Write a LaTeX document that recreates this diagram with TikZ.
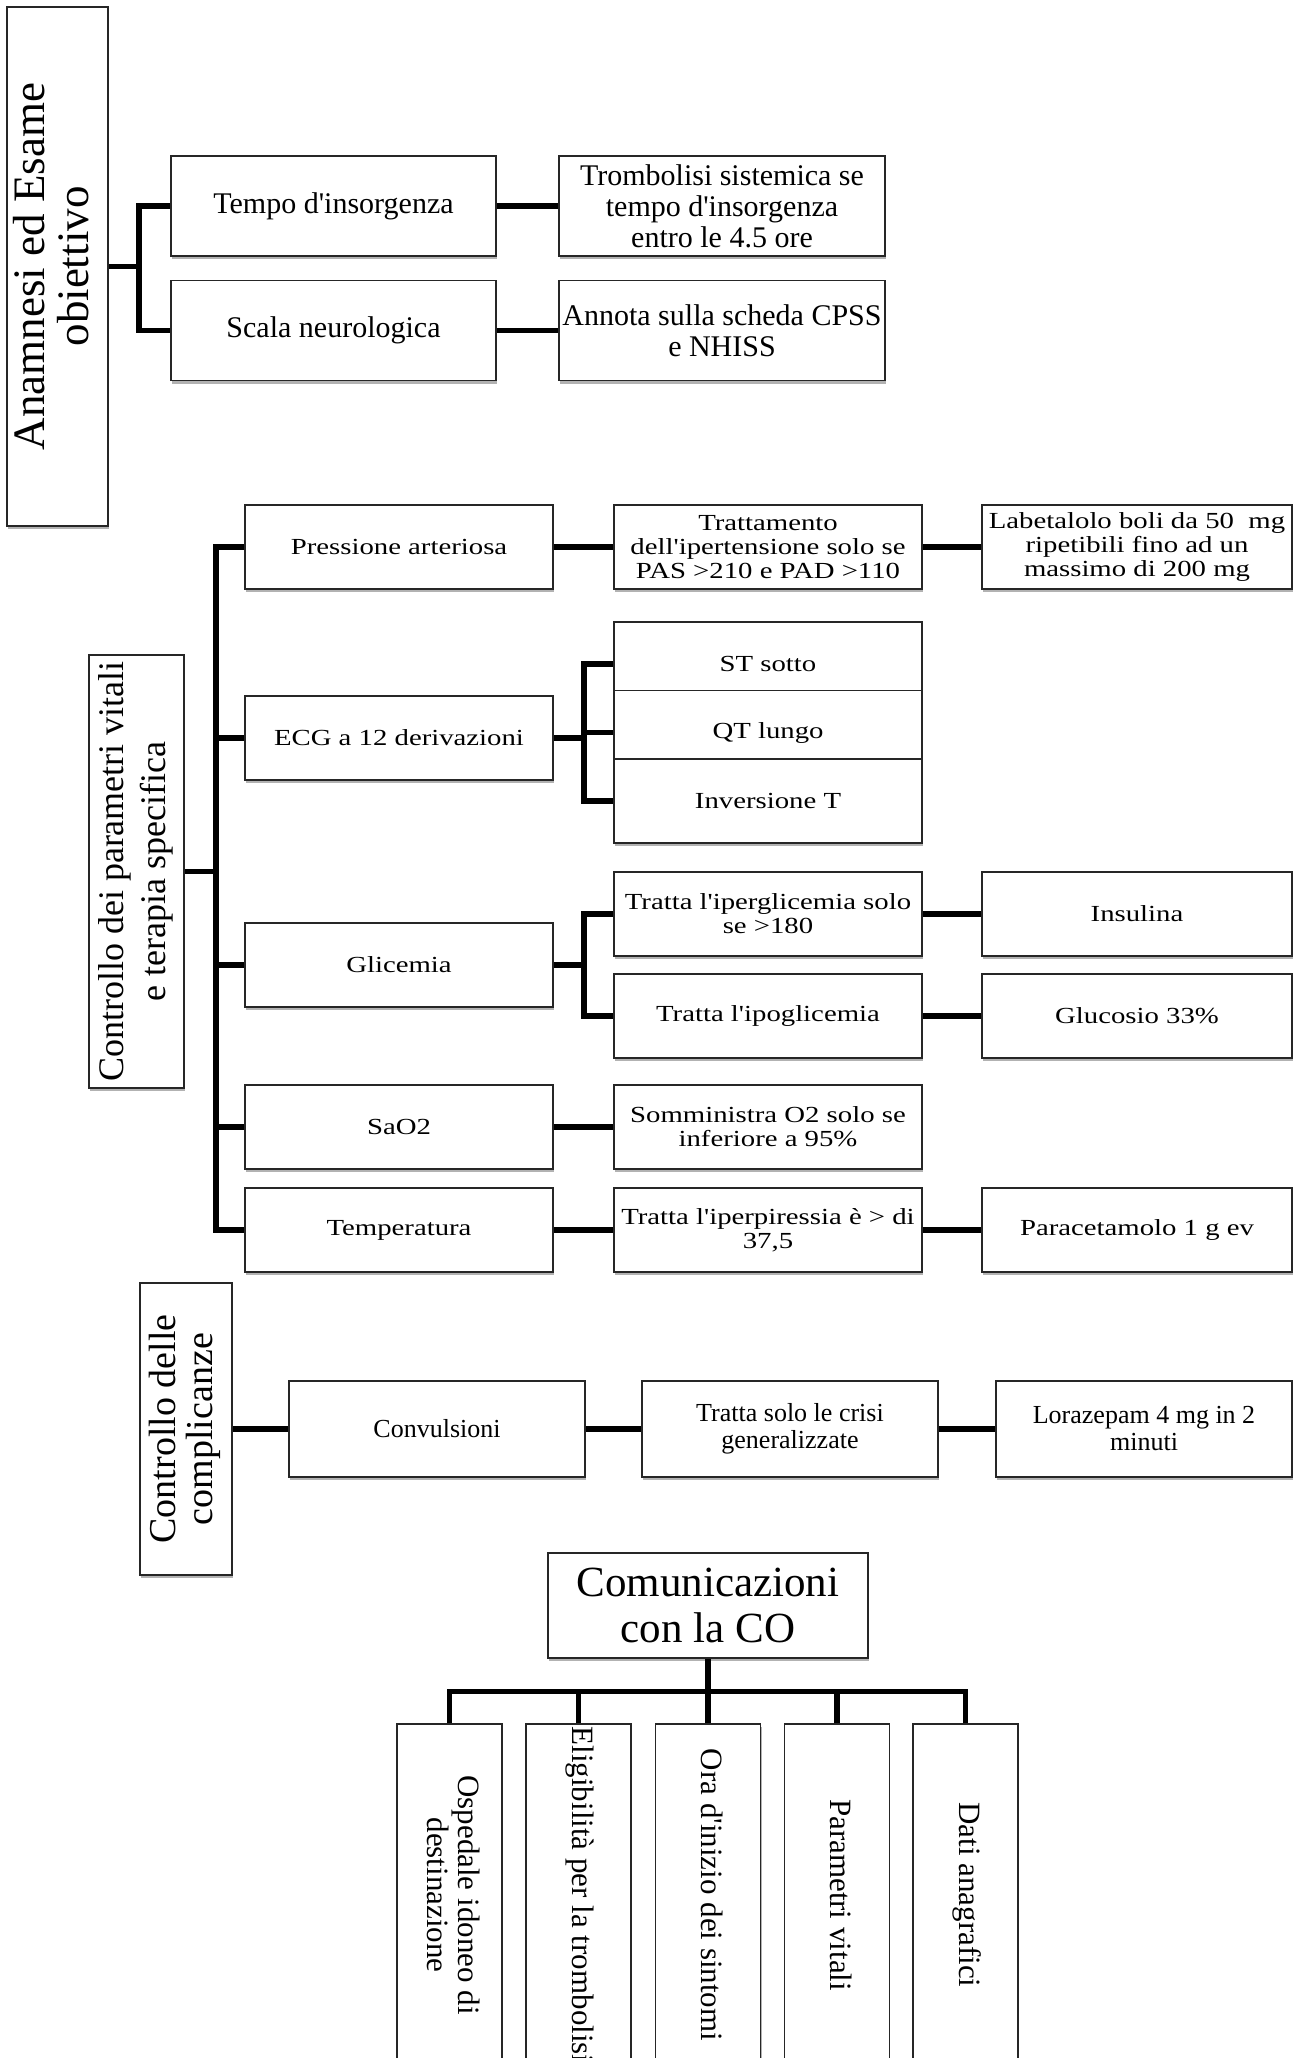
\documentclass[tikz,border=0pt]{standalone}
\usepackage{graphicx}
\usepackage{fontspec}
\setmainfont{Liberation Serif}[Ligatures=TeXOff]
\newfontfamily\wideserif{Liberation Serif}[Ligatures=TeXOff,FakeStretch=1.25]
\usetikzlibrary{shadows}
\newcommand{\rotup}[1]{\rotatebox{90}{\begin{tabular}{@{}c@{}}#1\end{tabular}}}
\newcommand{\rotdown}[1]{\rotatebox{-90}{\begin{tabular}{@{}c@{}}#1\end{tabular}}}
\tikzset{
  box/.style={draw=black!85, line width=1.6pt, fill=white, inner sep=0pt, align=center,
    drop shadow={shadow xshift=1pt, shadow yshift=-3pt, opacity=0.3, fill=black}},
  conn/.style={line width=5.5pt, black},
  sA/.style={font=\fontsize{30}{31}\selectfont, minimum width=325pt, minimum height=100pt},
  sB/.style={font=\wideserif\fontsize{23}{24}\selectfont, minimum width=308pt, minimum height=84pt},
  sBr/.style={font=\wideserif\fontsize{23}{24}\selectfont, minimum width=310pt, minimum height=84pt},
  sC/.style={font=\fontsize{26}{27}\selectfont, minimum width=296pt, minimum height=96pt},
  sD/.style={font=\fontsize{31}{31}\selectfont, minimum width=105pt, minimum height=342pt},
}
\begin{document}
\begin{tikzpicture}[x=1pt, y=-1pt]
\fill[white] (0,0) rectangle (1294,2058);
\useasboundingbox (0,0) rectangle (1294,2058);

% ---------- Section 1 ----------
\node[box, font=\fontsize{45}{45}\selectfont, minimum width=101pt, minimum height=519pt] (anam) at (57.5,266.5)
  {\rotup{Anamnesi ed Esame\\obiettivo}};
\node[box, sA] (tempo) at (333.5,206) {Tempo d'insorgenza};
\node[box, sA] (scala) at (333.5,330.5) {Scala neurologica};
\node[box, sA, minimum width=326pt] (trombo) at (722,206) {Trombolisi sistemica se\\tempo d'insorgenza\\entro le 4.5 ore};
\node[box, sA, minimum width=326pt] (annota) at (722,330.5) {Annota sulla scheda CPSS\\e NHISS};
\coordinate (j1) at (139,266.5);
\draw[conn] (anam.east) -- (j1);
\draw[conn] (tempo.west) -| (j1) |- (scala.west);
\draw[conn] (tempo.east) -- (trombo.west);
\draw[conn] (scala.east) -- (annota.west);

% ---------- Section 2 ----------
\node[box, font=\fontsize{36}{42}\selectfont, minimum width=95pt, minimum height=433pt] (param) at (136.5,871.5)
  {\rotup{Controllo dei parametri vitali\\e terapia specifica}};
\node[box, sB] (pa) at (399,547) {Pressione arteriosa};
\node[box, sB] (tratt) at (768,547) {Trattamento\\dell'ipertensione solo se\\PAS >210 e PAD >110};
\node[box, sBr] (labe) at (1137,547) {Labetalolo boli da 50\ \ mg\\ripetibili fino ad un\\massimo di 200 mg};
\node[box, sB] (ecg) at (399,738) {ECG a 12 derivazioni};
\node[box, sB] (st) at (768,664) {ST sotto};
\node[box, sB] (qt) at (768,732.5) {QT lungo};
\node[box, sB] (inv) at (768,801) {Inversione T};
\node[box, sB] (gli) at (399,965) {Glicemia};
\node[box, sB] (iper) at (768,914) {Tratta l'iperglicemia solo\\se >180};
\node[box, sBr] (insu) at (1137,914) {Insulina};
\node[box, sB] (ipo) at (768,1016) {Tratta l'ipoglicemia};
\node[box, sBr] (gluc) at (1137,1016) {Glucosio 33\%};
\node[box, sB] (sao) at (399,1127) {SaO2};
\node[box, sB] (somm) at (768,1127) {Somministra O2 solo se\\inferiore a 95\%};
\node[box, sB] (temp) at (399,1230) {Temperatura};
\node[box, sB] (iperp) at (768,1230) {Tratta l'iperpiressia è > di\\37,5};
\node[box, sBr] (para) at (1137,1230) {Paracetamolo 1 g ev};

\coordinate (j2) at (216,871.5);
\draw[conn] (param.east) -- (j2);
\draw[conn] (pa.west) -| (j2) |- (temp.west);
\draw[conn] (ecg.west) -- (ecg.west -| j2);
\draw[conn] (gli.west) -- (gli.west -| j2);
\draw[conn] (sao.west) -- (sao.west -| j2);
\draw[conn] (pa.east) -- (tratt.west);
\draw[conn] (tratt.east) -- (labe.west);
\coordinate (j3) at (584,738);
\draw[conn] (ecg.east) -- (j3);
\draw[conn] (st.west) -| (j3) |- (inv.west);
\draw[conn] (qt.west) -- (qt.west -| j3);
\coordinate (j4) at (584,965);
\draw[conn] (gli.east) -- (j4);
\draw[conn] (iper.west) -| (j4) |- (ipo.west);
\draw[conn] (iper.east) -- (insu.west);
\draw[conn] (ipo.east) -- (gluc.west);
\draw[conn] (sao.east) -- (somm.west);
\draw[conn] (temp.east) -- (iperp.west);
\draw[conn] (iperp.east) -- (para.west);

% ---------- Section 3 ----------
\node[box, font=\fontsize{38}{35}\selectfont, minimum width=92pt, minimum height=292pt] (comp) at (186,1429)
  {\rotup{Controllo delle\\complicanze}};
\node[box, sC] (conv) at (437,1429) {Convulsioni};
\node[box, sC] (crisi) at (790,1429) {Tratta solo le crisi\\generalizzate};
\node[box, sC] (lora) at (1144,1429) {Lorazepam 4 mg in 2\\minuti};
\draw[conn] (comp.east) -- (conv.west);
\draw[conn] (conv.east) -- (crisi.west);
\draw[conn] (crisi.east) -- (lora.west);

% ---------- Section 4 ----------
\node[box, font=\fontsize{43}{46}\selectfont, minimum width=320pt, minimum height=105pt] (com) at (708,1605.5)
  {Comunicazioni\\con la CO};
\node[box, sD] (b1) at (449.5,1895) {\rotdown{Ospedale idoneo di\\destinazione}};
\node[box, sD] (b2) at (578.5,1895) {\rotdown{Eligibilità per la trombolisi}};
\node[box, sD] (b3) at (708,1895) {\rotdown{Ora d'inizio dei sintomi}};
\node[box, sD] (b4) at (836.8,1895) {\rotdown{Parametri vitali}};
\node[box, sD] (b5) at (965.7,1895) {\rotdown{Dati anagrafici}};
\coordinate (bar) at (708,1691.6);
\draw[conn] (com.south) -- (bar);
\draw[conn] (b1.north) |- (bar);
\draw[conn] (b5.north) |- (bar);
\draw[conn] (b2.north) -- (b2.north |- bar);
\draw[conn] (b3.north) -- (bar);
\draw[conn] (b4.north) -- (b4.north |- bar);
\end{tikzpicture}
\end{document}
